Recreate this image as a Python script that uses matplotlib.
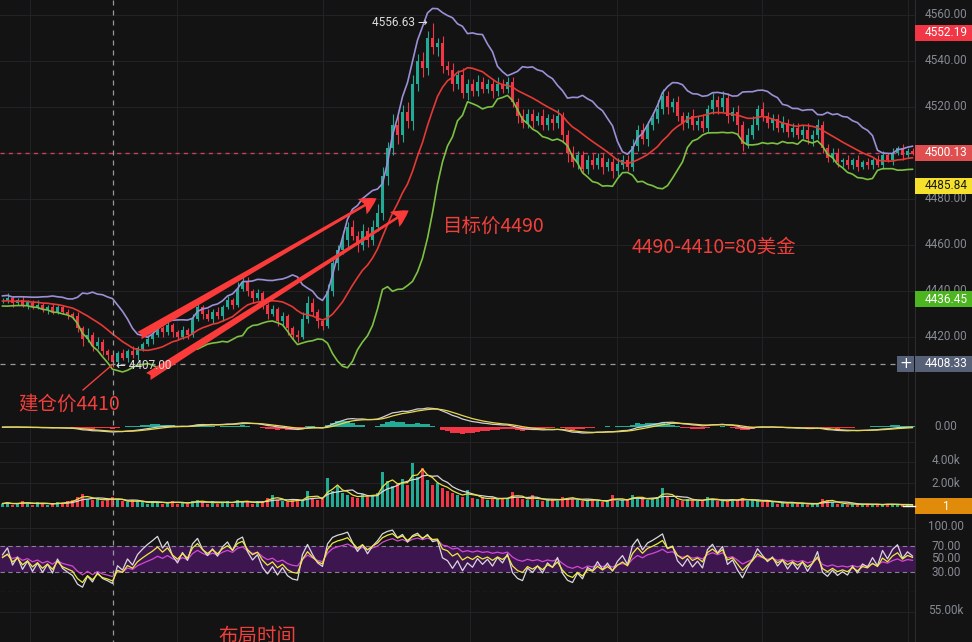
import numpy as np
import pandas as pd
import matplotlib
matplotlib.use('Agg')
import matplotlib.pyplot as plt
from matplotlib.patches import Rectangle, FancyArrowPatch
from matplotlib.lines import Line2D

W, H, DPI = 972, 642, 100

# ---------------- data ----------------
warmup_closes = [4436, 4437, 4435, 4438, 4436, 4439, 4437, 4436, 4438, 4435,
                 4437, 4439, 4436, 4434, 4437, 4438, 4436, 4435, 4437, 4436,
                 4438, 4435, 4434, 4436, 4437, 4435, 4436, 4434, 4435, 4436]

closes = [4436, 4437, 4435, 4436, 4434, 4435, 4433, 4434, 4432, 4433,
          4431, 4433, 4431, 4430, 4429, 4424, 4419, 4421, 4416, 4418,
          4414, 4412, 4409, 4413, 4411, 4414, 4412, 4415, 4417, 4419,
          4421, 4424, 4422, 4425, 4422, 4420, 4423, 4421, 4428, 4433,
          4430, 4428, 4431, 4429, 4433, 4436, 4434, 4441, 4444, 4440,
          4437, 4439, 4434, 4430, 4432, 4427, 4429, 4424, 4421, 4420,
          4428, 4435, 4431, 4427, 4425, 4440, 4452, 4458, 4462, 4468,
          4464, 4460, 4466, 4462, 4468, 4474, 4490, 4502, 4512, 4508,
          4518, 4514, 4530, 4540, 4537, 4550, 4546, 4548, 4538, 4536,
          4530, 4534, 4526, 4530, 4527, 4531, 4528, 4530, 4527, 4530,
          4528, 4531, 4522, 4516, 4513, 4517, 4514, 4516, 4512, 4515,
          4513, 4516, 4508, 4500, 4496, 4499, 4493, 4497, 4495, 4498,
          4494, 4496, 4492, 4495, 4497, 4494, 4503, 4510, 4506, 4512,
          4515, 4519, 4525, 4520, 4522, 4516, 4513, 4516, 4512, 4514,
          4511, 4519, 4523, 4520, 4524, 4516, 4518, 4512, 4504, 4508,
          4512, 4519, 4516, 4513, 4515, 4511, 4513, 4509, 4511, 4508,
          4510, 4506, 4508, 4512, 4502, 4498, 4500, 4496, 4497, 4495,
          4497, 4494, 4496, 4495, 4497, 4495, 4499, 4497, 4500, 4502,
          4499, 4501, 4500.13]

up_wick = ([1, 2, 1, 1, 2, 1, 1, 2, 1, 1, 2, 1, 1, 1, 1] +
           [2, 1, 3, 1, 2, 1, 1, 1] +
           [1, 2, 1, 2, 1, 1, 2, 1, 2, 1, 3, 1, 1, 2, 1, 2, 3] +
           [1, 2, 1, 2, 1, 2, 1, 3, 3, 2, 1, 2, 1, 1, 2, 1, 2, 1, 1, 2, 3, 3, 2, 1, 1] +
           [3, 3, 2, 4, 2, 3, 2, 3, 2, 3, 4] +
           [4, 3, 5, 4, 3, 4, 4, 3, 4, 3, 6.63, 2, 3, 2, 3] +
           [2, 3, 2, 2, 3, 2, 2, 2, 3, 2, 2] +
           [2, 2, 3, 2, 2, 2, 3, 2, 2, 3, 2, 2, 3, 2, 2, 2, 3, 2, 2, 2, 2, 3, 2, 2] +
           [3, 2, 3, 2, 3, 4, 3, 2, 2, 3, 2, 2, 3, 2, 3] +
           [2, 3, 2, 3, 2, 2, 3, 2, 3, 4, 2, 3, 2, 2, 2, 3, 2, 2, 2, 2, 3, 2, 3, 2, 2,
            2, 2, 1, 2, 1, 2, 1, 2, 1, 2, 2, 1, 2, 1, 2, 1, 1])

dn_wick = ([1, 1, 2, 1, 1, 2, 1, 1, 1, 2, 1, 1, 1, 2, 1] +
           [2, 3, 1, 2, 1, 2, 2, 2] +
           [2, 1, 2, 1, 2, 1, 1, 2, 1, 2, 1, 2, 1, 1, 2, 1, 1] +
           [2, 1, 2, 1, 2, 1, 2, 1, 1, 2, 2, 1, 2, 2, 1, 2, 2, 3, 2, 2, 1, 2, 2, 3, 2] +
           [1, 2, 3, 2, 3, 2, 3, 2, 3, 2, 2] +
           [3, 4, 3, 4, 3, 3, 4, 3, 4, 3, 3, 4, 3, 2, 3] +
           [2, 2, 3, 2, 2, 2, 2, 3, 2, 2, 2] +
           [2, 3, 2, 2, 3, 2, 2, 2, 3, 2, 3, 4, 2, 3, 2, 2, 2, 2, 3, 2, 3, 2, 2, 2] +
           [2, 2, 2, 3, 2, 2, 2, 3, 2, 2, 3, 2, 2, 2, 2] +
           [2, 2, 3, 2, 3, 2, 4, 3, 2, 2, 2, 2, 2, 3, 2, 2, 2, 2, 2, 2, 2, 3, 2, 2, 2,
            2, 2, 2, 2, 2, 2, 1, 2, 2, 1, 2, 1, 2, 1, 2, 1, 1])

volume_k = ([0.3, 0.4, 0.2, 0.3, 0.5, 0.3, 0.2, 0.4, 0.3, 0.2, 0.3, 0.4, 0.3, 0.5, 0.6] +
            [0.9, 1.1, 0.7, 0.6, 0.8, 0.5, 0.6, 0.9] +
            [0.6, 0.5, 0.4, 0.6, 0.5, 0.4, 0.3, 0.5, 0.4, 0.3, 0.4, 0.5, 0.3, 0.4, 0.3, 0.5, 0.6] +
            [0.4, 0.3, 0.5, 0.3, 0.4, 0.5, 0.3, 0.6, 0.5, 0.4, 0.3, 0.5, 0.4, 0.8, 1.0,
             0.6, 0.5, 0.4, 0.6, 0.7, 0.5, 1.4, 0.8, 0.6, 0.7] +
            [2.5, 1.4, 1.8, 1.2, 1.0, 0.9, 0.8, 1.1, 0.9, 1.0, 1.2] +
            [3.0, 2.2, 1.8, 2.0, 2.4, 1.9, 3.8, 2.6, 3.4, 2.3, 1.9, 2.1, 1.6, 1.4, 1.2] +
            [1.0, 0.9, 1.5, 0.8, 0.7, 0.9, 0.6, 0.8, 0.7, 0.7, 0.8] +
            [1.3, 0.8, 0.7, 0.6, 1.0, 0.6, 0.5, 0.7, 0.6, 0.5, 0.9, 0.8, 0.7, 0.6, 0.5,
             0.6, 0.7, 0.5, 0.4, 0.6, 1.0, 0.5, 0.6, 0.7] +
            [1.0, 0.8, 0.7, 0.6, 0.8, 0.9, 1.6, 0.9, 0.7, 0.6, 0.5, 0.7, 0.6, 0.5, 0.6] +
            [0.9, 0.6, 0.5, 0.6, 0.5, 0.7, 0.6, 0.8, 0.5, 0.6, 0.5, 0.4, 0.6, 0.4, 0.3,
             0.4, 0.3, 0.4, 0.3, 0.3, 0.2, 0.3, 0.3, 0.7, 0.6, 0.4, 0.3, 0.3, 0.2, 0.3,
             0.2, 0.2, 0.3, 0.2, 0.2, 0.2, 0.3, 0.2, 0.2, 0.2, 0.2, 0.1])

price_ticks = [4560, 4540, 4520, 4500, 4480, 4460, 4440, 4420]
price_tags = [(4552.19, '#f23645', 'white'), (4500.13, '#e04f4f', 'white'),
              (4485.84, '#f5e12c', '#1a1a1a'), (4436.45, '#4db51f', 'white'),
              (4408.33, '#566076', 'white')]
peak_price, peak_label = 4556.63, '4556.63 →'
low_price, low_label = 4407.00, '← 4407.00'
entry_text, target_text, calc_text, layout_text = '建仓价4410', '目标价4490', '4490-4410=80美金', '布局时间'

# indicator periods (scaled to the candle spacing of this rendering)
BB_N = 12
MACD_FAST, MACD_SLOW, MACD_SIG = 7, 16, 5
RSI_N = (4, 7, 14)

# ---------------- derived series ----------------
n_warm = len(warmup_closes)
all_close = pd.Series(warmup_closes + closes, dtype=float)
c = np.array(closes, dtype=float)
o = np.array([warmup_closes[-1]] + closes[:-1], dtype=float)
hi = np.maximum(o, c) + np.array(up_wick, dtype=float)
lo = np.minimum(o, c) - np.array(dn_wick, dtype=float)
N = len(c)
x = np.arange(N)

mid = all_close.rolling(BB_N).mean()
sd = all_close.rolling(BB_N).std(ddof=0)
bb_up = (mid + 2 * sd).values[n_warm:]
bb_dn = (mid - 2 * sd).values[n_warm:]
bb_mid = mid.values[n_warm:]

ema_f = all_close.ewm(span=MACD_FAST, adjust=False).mean()
ema_s = all_close.ewm(span=MACD_SLOW, adjust=False).mean()
dif = ema_f - ema_s
dea = dif.ewm(span=MACD_SIG, adjust=False).mean()
hist = 2 * (dif - dea)
dif, dea, hist = dif.values[n_warm:], dea.values[n_warm:], hist.values[n_warm:]


def rsi(s, n):
    d = s.diff()
    g = d.clip(lower=0).ewm(alpha=1 / n, adjust=False).mean()
    l = (-d.clip(upper=0)).ewm(alpha=1 / n, adjust=False).mean()
    return (100 - 100 / (1 + g / l)).values[n_warm:]


rsi_a, rsi_b, rsi_c = (rsi(all_close, n) for n in RSI_N)
vol = np.array(volume_k)
vol_ma5 = pd.Series(vol).rolling(3, min_periods=1).mean().values
vol_ma10 = pd.Series(vol).rolling(6, min_periods=1).mean().values

# ---------------- styling ----------------
BG = '#131313'
GRID = '#222226'
UP, DN = '#22ab94', '#f23645'
LBL = '#868993'
NUMFONT = ['Roboto', 'DejaVu Sans']
CJK = ['Noto Sans CJK SC', 'DejaVu Sans']
RED_TXT = '#f0403c'

fig = plt.figure(figsize=(W / DPI, H / DPI), dpi=DPI, facecolor=BG)
PLOT_R = 915


def add_ax(top, bottom, left=0, right=PLOT_R):
    a = fig.add_axes([left / W, 1 - bottom / H, (right - left) / W, (bottom - top) / H])
    a.set_facecolor('none')
    a.set_xlim(-0.5, N - 0.5)
    for s in a.spines.values():
        s.set_visible(False)
    a.set_xticks([])
    a.set_yticks([])
    return a


def fline(x0, y0, x1, y1, **kw):
    fig.add_artist(Line2D([x0 / W, x1 / W], [1 - y0 / H, 1 - y1 / H],
                          transform=fig.transFigure, **kw))


def ftext(xp, yp, s, **kw):
    fig.text(xp / W, 1 - yp / H, s, **kw)


def fbox(x0, y0, x1, y1, color, z=5):
    fig.add_artist(Rectangle((x0 / W, 1 - y1 / H), (x1 - x0) / W, (y1 - y0) / H,
                             transform=fig.transFigure, color=color, zorder=z, lw=0))


def ypix(a, v):
    return H - a.transData.transform((0, v))[1]


def xpix(a, v):
    return a.transData.transform((v, 0))[0]


# axes
ax = add_ax(0, 390)
ax.set_ylim(4560 - (390 - 15) / 2.3, 4560 + 15 / 2.3)
axm = add_ax(393, 452)
axv = add_ax(452, 507)
axv.set_ylim(0, 55 / 11.6)
axr = add_ax(515, 591.5)
axr.set_ylim(0, (591.5 - 515) / 0.65)
axb = add_ax(592, 642)
axb.set_ylim(0, 1)

# background grids
vgrid_px = [30, 177, 323, 470, 617, 762, 908]
for gx in vgrid_px:
    fline(gx, 0, gx, 642, color=GRID, lw=0.8, zorder=0)
for p in price_ticks:
    ax.axhline(p, color=GRID, lw=0.8, zorder=0)
for gy in [442, 462, 483, 528, 612]:
    fline(0, gy, PLOT_R, gy, color=GRID, lw=0.8, zorder=0)
fline(PLOT_R, 0, PLOT_R, 642, color='#2a2a2e', lw=0.8, zorder=0)

# ---------------- main panel ----------------
colors = np.where(c >= o, UP, DN)
ax.vlines(x, lo, hi, colors=colors, lw=0.8, zorder=3)
ax.bar(x, np.maximum(np.abs(c - o), 0.3), bottom=np.minimum(o, c), width=0.5,
       color=colors, zorder=3, lw=0)
ax.plot(x, bb_up, color='#9b8fd6', lw=1.2, zorder=4)
ax.plot(x, bb_mid, color='#e53935', lw=1.2, zorder=4)
ax.plot(x, bb_dn, color='#7cc142', lw=1.2, zorder=4)

# last price dashed red line
ax.axhline(closes[-1], color='#c8405a', lw=1.0, ls=(0, (3, 3)), zorder=2)
# crosshair
i_low = int(np.argmin(lo))
ax.plot([-0.5, (897 - 2.5) / 5], [4408.33, 4408.33], color='#9a9a9a', lw=0.9,
        ls=(0, (4, 4)), zorder=2)
fline(113, 0, 113, 642, color='#9a9a9a', lw=0.9, ls=(0, (4, 4)), zorder=6)

# red arrows
for (x0, y0, x1, y1) in [(137, 337, 379, 197), (146, 378, 411, 209)]:
    fa = FancyArrowPatch((x0, H - y0), (x1, H - y1), transform=None,
                         arrowstyle='fancy,head_length=0.8,head_width=0.85,tail_width=0.4',
                         mutation_scale=15, color='#fb3a3a', lw=0, zorder=8)
    fig.add_artist(fa)

# peak / low labels (drawn above the arrows)
i_peak = int(np.argmax(hi))
ftext(xpix(ax, i_peak) - 5, ypix(ax, peak_price), peak_label, ha='right', va='center',
      color='#dcdcdc', fontsize=8.5, family=NUMFONT, zorder=9)
ftext(xpix(ax, i_low) + 3, ypix(ax, low_price) - 1, low_label, ha='left', va='center',
      color='#dcdcdc', fontsize=8.5, family=NUMFONT, zorder=9)

# texts
ftext(18, 404, entry_text, color=RED_TXT, fontsize=14, family=CJK, va='center', ha='left', zorder=8)
fline(83, 390, 112, 365, color=RED_TXT, lw=1.0, zorder=8)
ftext(443, 227, target_text, color=RED_TXT, fontsize=14, family=CJK, va='center', ha='left', zorder=8)
ftext(632, 247, calc_text, color=RED_TXT, fontsize=14, family=CJK, va='center', ha='left', zorder=8)
ftext(218, 626, layout_text, color=RED_TXT, fontsize=14, family=CJK, va='top', ha='left', zorder=8)

# price axis labels
for p in price_ticks:
    ftext(946, ypix(ax, p), f'{p:.2f}', color=LBL, fontsize=8.5, family=NUMFONT,
          ha='center', va='center', zorder=4)
for val, bg, fg in price_tags:
    yp = ypix(ax, val)
    fbox(PLOT_R, yp - 8, W, yp + 8, bg)
    ftext(946, yp, f'{val:.2f}', color=fg, fontsize=8.5, family=NUMFONT,
          ha='center', va='center', zorder=6)
fbox(897, 356, 914, 372, '#566076')
ftext(905.5, 364, '+', color='white', fontsize=11, ha='center', va='center', zorder=6)

# ---------------- MACD ----------------
m = max(np.nanmax(np.abs(dif)), np.nanmax(np.abs(dea)), np.nanmax(np.abs(hist)))
axm.set_ylim(-m * 25 / 19, m * 34 / 19)
axm.bar(x, hist, width=1.0, color=np.where(hist >= 0, UP, DN), lw=0, zorder=2)
axm.plot(x, dif, color='#cfcfd6', lw=0.9, zorder=3)
axm.plot(x, dea, color='#e8d84a', lw=0.9, zorder=3)
ftext(946, ypix(axm, 0), '0.00', color=LBL, fontsize=8.5, family=NUMFONT, ha='center', va='center')

# ---------------- Volume ----------------
axv.bar(x, vol, width=0.6, color=colors, lw=0, zorder=2)
axv.plot(x, vol_ma10, color='#d8d8d8', lw=0.9, zorder=3)
axv.plot(x, vol_ma5, color='#e8e040', lw=0.9, zorder=3)
for v, s in [(4, '4.00k'), (2, '2.00k')]:
    ftext(946, ypix(axv, v), s, color=LBL, fontsize=8.5, family=NUMFONT, ha='center', va='center')
fbox(PLOT_R, 498, W, 514, '#e08c0a')
fline(903, 506, PLOT_R, 506, color='white', lw=1.0, zorder=6)
ftext(946, 506, '1', color='white', fontsize=8.5, family=NUMFONT, ha='center', va='center', zorder=6)

# ---------------- RSI ----------------
axr.axhspan(30, 70, color='#3d1650', lw=0, zorder=1)
for lv in (70, 30):
    axr.axhline(lv, color='#8a7f96', lw=0.8, ls=(0, (4, 3)), zorder=2)
axr.axhline(0, color='#7a7a82', lw=0.8, ls=(0, (4, 3)), zorder=2)
axr.plot(x, rsi_c, color='#d548d5', lw=0.9, zorder=3)
axr.plot(x, rsi_a, color='#d8d8e0', lw=0.9, zorder=4)
axr.plot(x, rsi_b, color='#ecec3c', lw=0.9, zorder=5)
for v in (100, 70, 50, 30):
    ftext(946, ypix(axr, v), f'{v:.2f}', color=LBL, fontsize=8.5, family=NUMFONT,
          ha='center', va='center')

# bottom panel
ftext(946, 611, '55.00k', color=LBL, fontsize=8.5, family=NUMFONT, ha='center', va='center')

fig.savefig('out.png', dpi=DPI, facecolor=BG)
